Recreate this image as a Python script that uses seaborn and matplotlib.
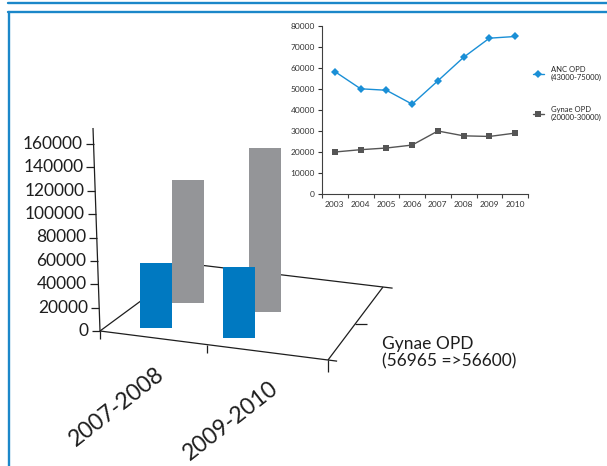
import numpy as np
import pandas as pd
import matplotlib
matplotlib.use('Agg')
import matplotlib.pyplot as plt
import seaborn as sns

# inset line chart: yearly OPD numbers
years = ['2003', '2004', '2005', '2006', '2007', '2008', '2009', '2010']
anc_opd = [58300, 50100, 49400, 42800, 53900, 65100, 74200, 75000]
gynae_opd = [20000, 21100, 21900, 23300, 30000, 27700, 27400, 29000]
line_names = ['ANC OPD\n(43000-75000)', 'Gynae OPD\n(20000-30000)']

# 3d column chart: two periods, two rows of columns
periods = ['2007-2008', '2009-2010']
front_vals = [56965, 62800]    # blue row
back_vals = [114500, 152500]   # grey row
depth_label = 'Gynae OPD\n(56965 =>56600)'
value_ticks = [0, 20000, 40000, 60000, 80000, 100000, 120000, 140000, 160000]

blue = '#0079c1'
grey = '#949598'
frame_blue = '#1b87c9'

sns.set_style('white')
plt.rcParams['font.family'] = ['Lato', 'DejaVu Sans']

fig = plt.figure(figsize=(6.07, 4.66), dpi=100)

# main "3d" chart lives on one axes covering the figure, value units on y
ax = fig.add_axes([0, 0, 1, 1])
ax.set_axis_off()
vpp = 160000 / 187          # value per pixel on the value axis
upp = 1 / 228               # category-units per pixel
ax.set_xlim(-100 * upp, 507 * upp)
ax.set_ylim((331 - 466) * vpp, 331 * vpp)

# floor corners (front-left, front-right, back-left, back-right)
F0 = np.array([0.0, 0.0])
F1 = np.array([1.0, -29 * vpp])
B0 = np.array([91 * upp, 67 * vpp])
B1 = np.array([283 * upp, 44 * vpp])


def floor(u, w):
    u = np.asarray(u, dtype=float)
    front = F0[:, None] * (1 - u) + F1[:, None] * u
    back = B0[:, None] * (1 - u) + B1[:, None] * u
    p = front * (1 - w) + back * w
    return p[0], p[1]


def depth_scale(w):
    return 1 - 0.16 * w


line_kw = dict(color='#1e1e1e', lw=0.9, zorder=1, solid_capstyle='butt')

# floor edges
e = F0 + 1.04 * (F1 - F0)
ax.plot([F0[0], e[0]], [F0[1], e[1]], **line_kw)
e = B0 + 1.05 * (B1 - B0)
ax.plot([B0[0], e[0]], [B0[1], e[1]], **line_kw)
ax.plot([F0[0], B0[0]], [F0[1], B0[1]], **line_kw)
ax.plot([F1[0], B1[0]], [F1[1], B1[1]], **line_kw)

# ticks along the front edge and the depth edge
for u, ln in [(0, 8), (0.47, 8), (1, 12)]:
    x, y = floor([u], 0)
    ax.plot([x[0], x[0]], [y[0], y[0] - ln * vpp], **line_kw)
for w in [0.5]:
    x, y = floor([1], w)
    ax.plot([x[0], x[0] + 12 * upp], [y[0], y[0]], **line_kw)

# value axis, leaning a little
top_val = 173700
lean = -7 * upp
ax.plot([0, lean], [0, top_val], **line_kw)
for v in value_ticks:
    xa = lean * v / top_val
    ax.plot([xa - 8 * upp, xa], [v, v], **line_kw)
    ax.text(xa - 11 * upp, v, f'{v}', ha='right', va='center', fontsize=12.5,
            color='#1e1e1e')

# columns
cat_u = [0.2, 0.57]
bar_w = 32 * upp
for vals, w, col, z in [(back_vals, 0.5, grey, 2), (front_vals, 0.13, blue, 3)]:
    xs, ys = floor(cat_u, w)
    ax.bar(xs, np.array(vals) * depth_scale(w), bottom=ys, width=bar_w,
           color=col, zorder=z, linewidth=0)

# category labels under the front edge
lx, ly = floor([0.25, 0.75], 0)
for i, lab in enumerate(periods):
    ax.annotate(lab, xy=(lx[i], ly[i]), xytext=(-2, -25), textcoords='offset pixels',
                rotation=38, rotation_mode='anchor', ha='right', va='top',
                fontsize=16.5, color='#1e1e1e', annotation_clip=False)

# depth axis label
dx, dy = floor([1], 0.5)
ax.annotate(depth_label, xy=(dx[0], dy[0]), xytext=(27, -13), textcoords='offset pixels',
            ha='left', va='top', fontsize=12.5, linespacing=1.05, color='#1e1e1e')

# inset line chart
ax2 = fig.add_axes([322 / 607, 1 - 194 / 466, 206 / 607, 168 / 466])
df = pd.DataFrame({
    'year': years * 2,
    'value': anc_opd + gynae_opd,
    'series': [line_names[0]] * len(years) + [line_names[1]] * len(years),
})
sns.lineplot(data=df, x='year', y='value', hue='series', style='series',
             palette=['#1a8fd6', '#555555'], markers=['D', 's'], dashes=False,
             markersize=4.5, markeredgewidth=0, linewidth=1, ax=ax2)
ax2.set_xlim(-0.5, 7.5)
ax2.set_ylim(0, 80000)
ax2.set_yticks(range(0, 80001, 10000))
ax2.set_xticks(range(len(years)))
ax2.set_xticks(np.arange(-0.5, 8, 1), minor=True)
ax2.tick_params(axis='x', which='major', length=0, labelsize=6, pad=5, colors='#333333')
ax2.tick_params(axis='x', which='minor', length=3, width=0.8, color='#404040', bottom=True)
ax2.tick_params(axis='y', length=3, width=0.8, labelsize=6, pad=2, colors='#333333',
                left=True)
ax2.set_xlabel('')
ax2.set_ylabel('')
for s in ['top', 'right']:
    ax2.spines[s].set_visible(False)
for s in ['left', 'bottom']:
    ax2.spines[s].set_color('#404040')
    ax2.spines[s].set_linewidth(0.8)

handles, labels = ax2.get_legend_handles_labels()
ax2.legend(handles, labels, loc='upper left', bbox_to_anchor=(533 / 607, 1 - 66 / 466),
           bbox_transform=fig.transFigure, frameon=False, fontsize=5.5,
           handlelength=1.4, handletextpad=0.9, labelspacing=3.2,
           borderpad=0, borderaxespad=0)

# blue page frame
for xs, ys in [([8, 607], [2.7, 2.7]), ([8, 607], [12.2, 12.2]), ([9.2, 9.2], [12.2, 466])]:
    fig.add_artist(plt.Line2D([x / 607 for x in xs], [1 - y / 466 for y in ys],
                              transform=fig.transFigure, color=frame_blue, lw=1.7))

fig.savefig('out.png', dpi=100)
